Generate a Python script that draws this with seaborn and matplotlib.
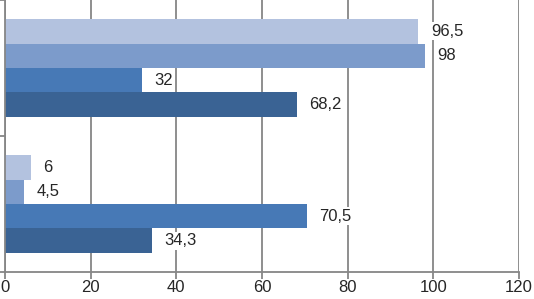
import numpy as np
import pandas as pd
import matplotlib
matplotlib.use('Agg')
import matplotlib.pyplot as plt
import seaborn as sns

groups = ['A', 'B']
series = ['S1', 'S2', 'S3', 'S4']
values_a = [96.5, 98, 32, 68.2]
values_b = [6, 4.5, 70.5, 34.3]
colors = ['#b3c2df', '#7c9bcb', '#4779b6', '#3a6394']

df = pd.DataFrame({
    'group': [g for g in groups for _ in series],
    'series': series * 2,
    'value': values_a + values_b,
})

sns.set_style('white')
plt.rcParams['font.family'] = ['Liberation Sans', 'DejaVu Sans']

fig = plt.figure(figsize=(5.34, 2.99), dpi=100)
ax = fig.add_axes([5 / 534, 27 / 299, 514 / 534, 272 / 299])

sns.barplot(data=df, y='group', x='value', hue='series', order=groups,
            hue_order=series, palette=colors, orient='h', width=0.72,
            saturation=1, linewidth=0, legend=False, ax=ax)

for cont in ax.containers:
    for bar in cont:
        v = bar.get_width()
        lab = f'{v:g}'.replace('.', ',')
        ax.annotate(lab, (v, bar.get_y() + bar.get_height() / 2),
                    xytext=(9, 0), textcoords='offset points',
                    va='center', ha='left', fontsize=12,
                    bbox=dict(facecolor='white', edgecolor='none', pad=1))

gray = '#868686'
ax.set_xlim(0, 120)
ax.set_ylim(1.5, -0.5)
ax.set_xticks(np.arange(0, 121, 20))
ax.set_yticks([-0.5, 0.5, 1.5])
ax.set_yticklabels([])
ax.grid(axis='x', color=gray, linewidth=1.3)
ax.set_axisbelow(True)
ax.set_xlabel('')
ax.set_ylabel('')
for s in ['top', 'right']:
    ax.spines[s].set_visible(False)
for s in ['left', 'bottom']:
    ax.spines[s].set_color(gray)
    ax.spines[s].set_linewidth(1.3)
ax.tick_params(axis='x', length=5, width=1.3, color=gray, labelsize=12,
               bottom=True, pad=1)
ax.tick_params(axis='y', length=5, width=1.3, color=gray, left=True)

fig.savefig('out.png', dpi=100)
